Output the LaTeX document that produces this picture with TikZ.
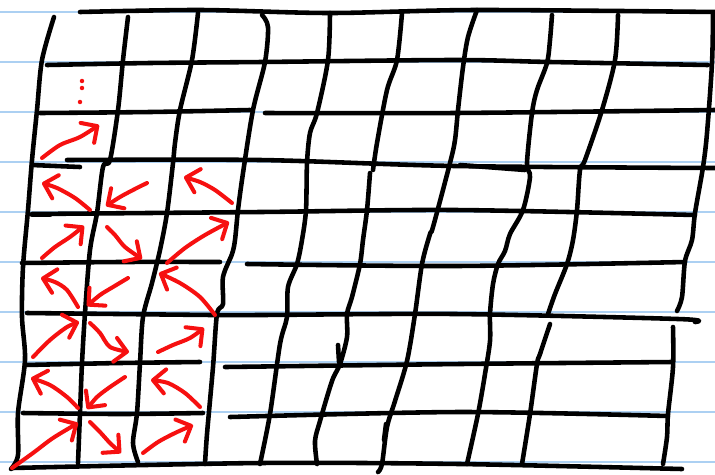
\documentclass[tikz,border=0pt]{standalone}
\usetikzlibrary{arrows.meta}
\definecolor{ruleblue}{RGB}{172,208,242}
\definecolor{penred}{RGB}{246,16,16}
\tikzset{
  every picture/.style={line width=2.6pt},
  sRule/.style={ruleblue, line width=1pt},
  sPen/.style={black, line cap=round, line join=round},
  sFlow/.style={penred, line width=2.3pt, line cap=round, line join=round,
                -{Straight Barb[round,length=2.4mm,width=4.8mm]}},
  sDot/.style={circle, fill=penred, inner sep=0.9pt},
}

\begin{document}
\begin{tikzpicture}[x=0.02cm, y=-0.02cm]
\useasboundingbox (0,0) rectangle (715,474);
% paper rulings
\draw[sRule] (0,11.7) -- (715,11.7) (0,61.7) -- (715,61.7) (0,111.7) -- (715,111.7) (0,161.7) -- (715,161.7) (0,211.7) -- (715,211.7);
\draw[sRule] (0,261.7) -- (715,261.7) (0,311.7) -- (715,311.7) (0,361.7) -- (715,361.7) (0,411.7) -- (715,411.7) (0,461.7) -- (715,461.7);
% horizontal strokes of the grid
\draw[sPen] plot[smooth] coordinates {(80,12) (200,10) (330,13) (477,10) (715,12)};
\draw[sPen] plot[smooth] coordinates {(47,65) (150,63) (262,62) (455,60) (550,62) (708,65)};
\draw[sPen] plot[smooth] coordinates {(40,113) (150,112) (250,110)}; \draw[sPen] plot[smooth] coordinates {(265,113) (455,113) (715,110)};
\draw[sPen] (32,165) -- (80,167); \draw[sPen] plot[smooth] coordinates {(67,160) (260,160) (455,166) (715,168)};
\draw[sPen] (460,165) -- (525,170);
\draw[sPen] (32,215) -- (50,215); \draw[sPen] plot[smooth] coordinates {(32,214) (260,212) (455,210) (695,215)};
\draw[sPen] plot[smooth] coordinates {(22,263) (120,262) (220,262)}; \draw[sPen] plot[smooth] coordinates {(247,264) (455,266) (685,262)};
\draw[sPen] plot[smooth] coordinates {(27,313) (213,315) (260,315) (455,314) (678,319) (695,322)};
\draw[sPen] plot[smooth] coordinates {(25,365) (120,363) (200,362)}; \draw[sPen] plot[smooth] coordinates {(225,367) (460,364) (672,362)};
\draw[sPen] plot[smooth] coordinates {(23,413) (120,414) (203,413)}; \draw[sPen] plot[smooth] coordinates {(230,417) (460,412) (668,416)};
\draw[sPen] plot[smooth] coordinates {(12,468) (260,463) (460,464) (682,469)};
% vertical strokes of the grid
\draw[sPen] plot[smooth] coordinates {(54,17) (42,60) (37,110) (32,160) (28,210) (23,267) (22,317) (25,360) (18,413) (18,455) (11,469)};
\draw[sPen] plot[smooth] coordinates {(128,17) (123,60) (118,110) (110,160) (103,167) (97,213) (90,250) (85,313) (82,363) (80,413) (78,463)};
\draw[sPen] plot[smooth] coordinates {(198,13) (192,60) (180,110) (175,143) (173,163) (167,213) (160,250) (152,283) (143,317) (140,363) (137,413) (133,443) (138,462)};
\draw[sPen] plot[smooth] coordinates {(262,15) (268,27) (265,62) (253,110) (243,173) (238,210) (235,240) (232,254) (223,277) (223,304) (217,314) (213,367) (207,434) (205,464)};
\draw[sPen] plot[smooth] coordinates {(330,13) (328,60) (317,113) (310,133) (307,163) (306,210) (302,240) (297,264) (288,287) (287,317) (280,344) (270,414) (260,464)};
\draw[sPen] plot[smooth] coordinates {(402,13) (397,60) (387,90) (377,143) (373,170)};
\draw[sPen] plot[smooth] coordinates {(370,173) (367,210) (363,240) (360,264) (352,297) (347,314) (347,337) (340,364) (332,381) (320,421) (315,441) (317,464)};
\draw[sPen] (338,345) -- (339,362);
\draw[sPen] plot[smooth] coordinates {(477,10) (468,37) (463,67) (458,110) (455,140) (450,163) (433,227) (430,234) (422,264) (415,314) (407,361) (395,401) (387,427) (382,464) (378,472)};
\draw[sPen] (386,424) -- (384,440);
\draw[sPen] plot[smooth] coordinates {(552,15) (550,40) (547,63) (537,90) (532,113) (527,163) (530,177) (523,210) (510,234) (505,251) (498,264) (493,284) (490,314) (490,341) (485,374) (478,414) (467,464)};
\draw[sPen] plot[smooth] coordinates {(618,15) (615,60) (602,110) (585,160) (580,170) (577,210) (573,240) (567,264) (555,294) (548,314)};
\draw[sPen] plot[smooth] coordinates {(550,324) (540,354) (537,364) (530,414) (522,464)};
\draw[sPen] plot[smooth] coordinates {(713,13) (712,63) (707,133) (703,167) (695,213) (692,240) (685,261) (682,297) (677,311)};
\draw[sPen] plot[smooth] coordinates {(673,327) (673,367) (668,414) (667,437) (663,464)};
% red arrows, top of the column
\node[sDot] (d1) at (82,81) {}; \node[sDot] (d2) at (82,88) {}; \node[sDot] (d3) at (80,102) {};
\draw[sFlow] plot[smooth] coordinates {(42,158) (60,145) (80,137) (99,125)};
% row 4/5
\draw[sFlow] plot[smooth] coordinates {(90,210) (75,198) (57,188) (42,183)};
\draw[sFlow] plot[smooth] coordinates {(147,183) (133,190) (120,197) (106,206)};
\draw[sFlow] plot[smooth] coordinates {(232,203) (215,190) (200,182) (184,177)};
% row 5/6
\draw[sFlow] plot[smooth] coordinates {(42,258) (55,247) (70,237) (84,226)};
\draw[sFlow] plot[smooth] coordinates {(107,227) (115,235) (125,247) (142,259)};
\draw[sFlow] plot[smooth] coordinates {(167,263) (185,248) (205,235) (229,222)};
% row 6/7
\draw[sFlow] plot[smooth] coordinates {(78,307) (67,290) (55,282) (41,278)};
\draw[sFlow] plot[smooth] coordinates {(128,278) (113,287) (100,295) (87,306)};
\draw[sFlow] plot[smooth] coordinates {(215,315) (200,297) (180,283) (159,273)};
% row 7/8
\draw[sFlow] plot[smooth] coordinates {(33,357) (50,340) (67,327) (79,322)};
\draw[sFlow] plot[smooth] coordinates {(90,323) (100,333) (110,347) (129,352)};
\draw[sFlow] plot[smooth] coordinates {(158,352) (173,345) (190,338) (204,328)};
% row 8/9
\draw[sFlow] plot[smooth] coordinates {(78,408) (67,397) (50,385) (31,378)};
\draw[sFlow] plot[smooth] coordinates {(125,377) (110,387) (97,397) (87,409)};
\draw[sFlow] plot[smooth] coordinates {(200,407) (185,393) (168,383) (151,380)};
% row 9/10
\draw[sFlow] plot[smooth] coordinates {(12,468) (33,453) (53,438) (78,423)};
\draw[sFlow] plot[smooth] coordinates {(90,422) (100,432) (110,443) (121,453)};
\draw[sFlow] plot[smooth] coordinates {(143,453) (158,442) (175,433) (193,425)};
\end{tikzpicture}
\end{document}
